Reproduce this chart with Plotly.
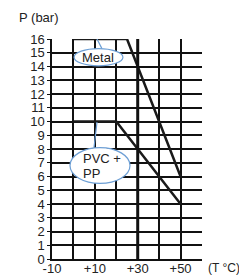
import plotly.graph_objects as go

# Data
metal_t = [0, 25, 50]
metal_p = [16, 16, 6]
pvc_t = [0, 20, 50]
pvc_p = [10, 10, 4]
x_ticks = [-10, 0, 10, 20, 30, 40, 50, 60]
x_labels = ["-10", "", "+10", "", "+30", "", "+50", ""]
y_ticks = list(range(0, 17))

FONT = "Liberation Sans, Arial, sans-serif"
BLUE = "#6d9fd5"

fig = go.Figure()
fig.add_trace(go.Scatter(x=metal_t, y=metal_p, mode="lines",
                         line=dict(color="#1a1a1a", width=2.5), showlegend=False))
fig.add_trace(go.Scatter(x=pvc_t, y=pvc_p, mode="lines",
                         line=dict(color="#1a1a1a", width=2.5), showlegend=False))

# thick vertical line at +30
fig.add_vline(x=30, line=dict(color="#111", width=3), layer="above")

# callout ellipses
fig.add_shape(type="circle", x0=0.3, x1=23.1, y0=14.05, y1=15.3,
              line=dict(color=BLUE, width=1.2), fillcolor="white", layer="above")
fig.add_shape(type="line", x0=11, y0=16, x1=13.3, y1=15.3,
              line=dict(color=BLUE, width=1.2), layer="above")
fig.add_shape(type="circle", x0=-1.6, x1=26.4, y0=5.5, y1=8.1,
              line=dict(color=BLUE, width=1.2), fillcolor="white", layer="above")
fig.add_shape(type="line", x0=11, y0=9.95, x1=9.6, y1=8.1,
              line=dict(color=BLUE, width=1.2), layer="above")

fig.add_annotation(x=11.5, y=14.65, text="Metal", showarrow=False,
                   font=dict(family=FONT, size=13, color="#222"))
fig.add_annotation(x=3.3, y=7.3, text="PVC +", showarrow=False, xanchor="left",
                   font=dict(family=FONT, size=13, color="#222"))
fig.add_annotation(x=3.3, y=6.2, text="PP", showarrow=False, xanchor="left",
                   font=dict(family=FONT, size=13, color="#222"))

fig.add_annotation(xref="paper", yref="paper", x=-0.233, y=1.0, yshift=22,
                   yanchor="middle", xanchor="left",
                   text="P (bar)", showarrow=False,
                   font=dict(family=FONT, size=13, color="#222"))
fig.add_annotation(xref="paper", yref="paper", x=1.025, y=0, yshift=-9,
                   yanchor="middle", xanchor="left",
                   text="(T °C)", showarrow=False,
                   font=dict(family=FONT, size=12, color="#222"))

axis_common = dict(showgrid=True, gridcolor="#111", gridwidth=1.5,
                   showline=True, linecolor="#111", linewidth=1.5,
                   zeroline=False, automargin=False,
                   tickfont=dict(family=FONT, size=13, color="#222"),
                   fixedrange=True)
fig.update_xaxes(range=[-10, 60], tickvals=x_ticks, ticktext=x_labels,
                 ticks="", ticklabelstandoff=-3, **axis_common)
fig.update_yaxes(range=[0, 16], tickvals=y_ticks,
                 ticks="outside", ticklen=3, tickcolor="#111", **axis_common)

# page body has an 8px margin, so the figure is sized to fit the window
fig.update_layout(width=239, height=269,
                  margin=dict(l=44, r=45, t=31, b=18),
                  paper_bgcolor="white", plot_bgcolor="white",
                  showlegend=False)

fig.write_html("out.html", config={"displayModeBar": False})
